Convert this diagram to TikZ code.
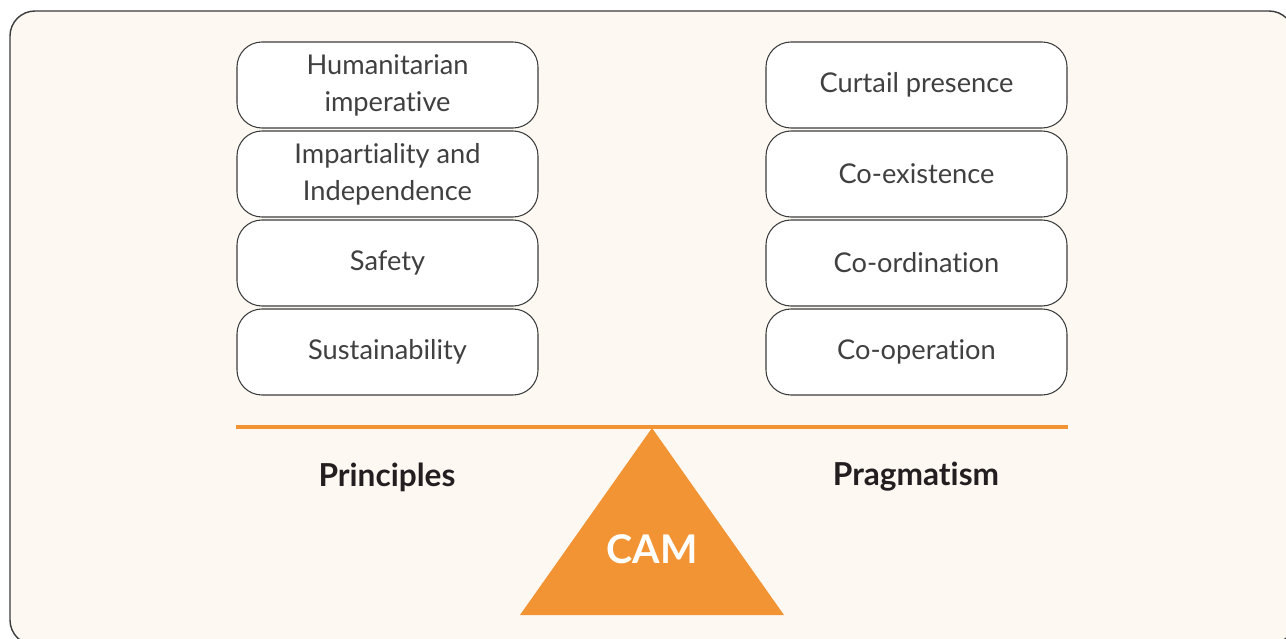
\documentclass[tikz,border=0pt]{standalone}
\usepackage{fontspec}
\setmainfont[Ligatures=NoCommon]{Lato}
\usepackage{xcolor}
\usepackage{tikz}
\usetikzlibrary{positioning}
\definecolor{camorange}{RGB}{243,148,52}
\definecolor{camcream}{RGB}{253,248,242}
\definecolor{camdark}{RGB}{35,31,32}
\definecolor{linegray}{RGB}{60,60,60}
\definecolor{textgray}{RGB}{64,64,64}

\begin{document}
\begin{tikzpicture}[x=0.2mm, y=-0.2mm,
    item/.style={draw=linegray, fill=white, line width=0.6pt, rounded corners=5mm,
                 minimum width=6.02cm, minimum height=1.72cm, align=center,
                 text=textgray, font=\fontsize{15.5}{21}\selectfont},
    side/.style={font=\fontsize{18}{21}\selectfont\bfseries, text=camdark},
    pivot/.style={font=\fontsize{22.5}{26}\selectfont\bfseries, text=white}]
  \useasboundingbox (0,0) rectangle (1286,639);
  \clip (0,0) rectangle (1286,639);
  % frame
  \draw[draw=linegray, fill=camcream, line width=0.8pt, rounded corners=5mm]
       (10,11) rectangle (1294,645);
  % principles
  \node[item] (h) at (387.5,85)  {Humanitarian\\imperative};
  \node[item] (i) at (387.5,174) {Impartiality and\\Independence};
  \node[item] (s) at (387.5,263) {Safety};
  \node[item] (u) at (387.5,352) {Sustainability};
  % pragmatism
  \node[item] (cp) at (916.5,85)  {Curtail presence};
  \node[item] (ce) at (916.5,174) {Co-existence};
  \node[item] (cd) at (916.5,263) {Co-ordination};
  \node[item] (co) at (916.5,352) {Co-operation};
  % beam and fulcrum
  \coordinate (bl) at (236,427);
  \coordinate (br) at (1068,427);
  \draw[camorange, line width=2.5pt] (bl) -- (br);
  \fill[camorange] (652,428) -- (784,615) -- (520,615) -- cycle;
  \node[pivot] (cam) at (652,549) {CAM};
  \node[side] (pr) at (387,477) {Principles};
  \node[side] (pg) at (916,477) {Pragmatism};
\end{tikzpicture}
\end{document}
